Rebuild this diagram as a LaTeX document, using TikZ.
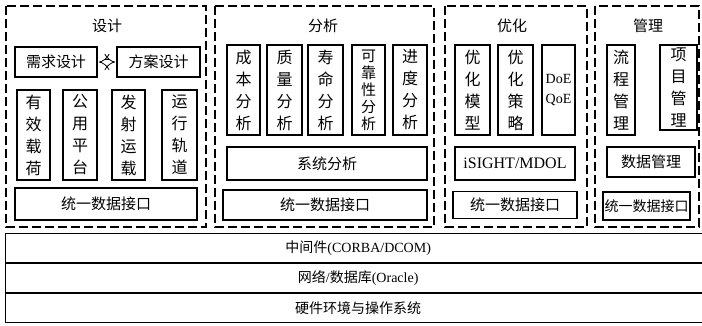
\documentclass[tikz,border=0pt]{standalone}
\usepackage{fontspec}
\setmainfont{Noto Sans CJK SC}
\newfontfamily\lat{Liberation Serif}
\usetikzlibrary{arrows.meta}

\tikzset{
	grp/.style={draw, line width=1.6pt, dash pattern=on 9pt off 4pt},
	box/.style={draw, line width=1.6pt, inner sep=0pt, font=\fontsize{15}{18}\selectfont},
	vbox/.style={box, align=center, minimum height=90pt, font=\fontsize{16}{22}\selectfont},
	layer/.style={draw, line width=1.4pt, minimum width=705pt, minimum height=29pt, inner sep=0pt, font=\fontsize{14}{16}\selectfont},
	title/.style={font=\fontsize{15}{18}\selectfont},
	dbl/.style={line width=0.8pt, double, double distance=5pt, {Implies[length=6pt]}-{Implies[length=6pt]}, shorten <=1pt, shorten >=1pt}
}

\begin{document}
\begin{tikzpicture}[x=1pt, y=-1pt]
		\useasboundingbox (0,0) rectangle (702,325);
		% groups
		\draw[grp] (6,6) rectangle (206,227);
		\draw[grp] (215,6) rectangle (434,227);
		\draw[grp] (445,6) rectangle (587,227);
		\draw[grp] (595,6) rectangle (699,227);
		\node[title] (tdesign) at (107,26) {设计};
		\node[title] (tana) at (323,26) {分析};
		\node[title] (topt) at (512,26) {优化};
		\node[title] (tman) at (648,26) {管理};
		% design
		\node[box, minimum width=82pt, minimum height=30pt] (req) at (56,62) {需求设计};
		\node[box, minimum width=83pt, minimum height=30pt] (plan) at (158.5,62) {方案设计};
		\draw[dbl] (req) -- (plan);
		\node[vbox, minimum width=33pt] (payload) at (33.5,135) {有\\效\\载\\荷};
		\node[vbox, minimum width=34pt] (bus) at (80,135) {公\\用\\平\\台};
		\node[vbox, minimum width=33pt] (launch) at (128.5,135) {发\\射\\运\\载};
		\node[vbox, minimum width=35pt] (orbit) at (179.5,135) {运\\行\\轨\\道};
		\node[box, minimum width=182pt, minimum height=32pt] (ifdesign) at (106,204) {统一数据接口};
		% analysis
		\node[vbox, minimum width=33pt] (cost) at (243.5,90) {成\\本\\分\\析};
		\node[vbox, minimum width=35pt] (quality) at (284.5,90) {质\\量\\分\\析};
		\node[vbox, minimum width=35pt] (life) at (325.5,90) {寿\\命\\分\\析};
		\node[vbox, minimum width=33pt, font=\fontsize{15}{17}\selectfont] (reliab) at (368.5,90) {可\\靠\\性\\分\\析};
		\node[vbox, minimum width=34pt] (sched) at (410,90) {进\\度\\分\\析};
		\node[box, minimum width=200pt, minimum height=33pt] (sysana) at (327,163.5) {系统分析};
		\node[box, minimum width=204pt, minimum height=30pt] (ifana) at (325,205) {统一数据接口};
		% optimization
		\node[vbox, minimum width=35pt] (optmodel) at (472.5,90) {优\\化\\模\\型};
		\node[vbox, minimum width=35pt] (optstrat) at (515.5,90) {优\\化\\策\\略};
		\node[vbox, minimum width=33pt, font=\lat\fontsize{14}{20}\selectfont] (doe) at (558.5,90) {DoE\\QoE};
		\node[box, minimum width=120pt, minimum height=33pt, font=\lat\fontsize{16}{18}\selectfont] (isight) at (515,163.5) {iSIGHT/MDOL};
		\node[box, minimum width=124pt, minimum height=27pt] (ifopt) at (515,205) {统一数据接口};
		% management
		\node[vbox, minimum width=28pt] (flow) at (621,90) {流\\程\\管\\理};
		\node[vbox, minimum width=37pt, minimum height=85pt] (proj) at (678.5,87.5) {项\\目\\管\\理};
		\node[box, minimum width=88pt, minimum height=30pt] (datam) at (651,162) {数据管理};
		\node[box, minimum width=87pt, minimum height=28pt, font=\fontsize{14}{16}\selectfont] (ifman) at (646.5,206) {统一数据接口};
		% layers
		\node[layer, anchor=north west] (mid) at (5,233) {中间件{\lat(CORBA/DCOM)}};
		\node[layer, anchor=north west] (net) at (5,263) {网络{\lat/}数据库{\lat(Oracle)}};
		\node[layer, anchor=north west] (hw) at (5,293) {硬件环境与操作系统};
\end{tikzpicture}
\end{document}
